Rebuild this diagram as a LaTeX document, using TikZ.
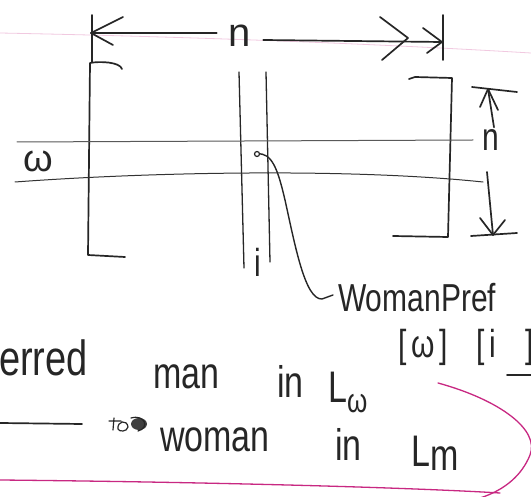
\documentclass[tikz,border=0pt]{standalone}
\usepackage{fontspec}
\setmainfont{Liberation Sans}
\definecolor{marker}{RGB}{200,40,130}
\newcommand\tallword[1]{\scalebox{1}[1.3]{#1}}
\begin{document}
\begin{tikzpicture}[x=1pt,y=-1pt,
  pen/.style={line width=1.7pt, line cap=round, line join=round, black!85},
  thinrule/.style={line width=1pt, line cap=round, black!65},
  hilite/.style={line width=1.3pt, line cap=round, marker},
  hand/.style={font=\fontsize{34}{34}\selectfont, inner sep=0pt, black!85},
  bighand/.style={font=\fontsize{40}{40}\selectfont, inner sep=0pt, black!85},
  midhand/.style={font=\fontsize{30}{30}\selectfont, inner sep=0pt, black!85}]
\useasboundingbox (0,0) rectangle (531,497);
\clip (0,0) rectangle (531,497);
\fill[white] (0,0) rectangle (531,497);

% faint ruled line of the paper
\draw[marker!25, line width=0.8pt] (0,33) .. controls (200,37) and (380,44) .. (531,53);

% width dimension: |<-- n -->>|
\node[bighand] (ntop) at (240,36) {n};
\coordinate (wl) at (91,33);
\coordinate (wr) at (442,42);
\draw[pen] (92,15) -- (92,62);
\draw[pen] (443,15) -- (443,60);
\draw[pen] ([xshift=-12pt]ntop.west |- wl) -- (wl);
\draw[pen] (123,17) -- (wl) -- (113,45);
\draw[pen] ([xshift=12pt]ntop.east |- 0,40) -- (wr);
\draw[pen] (380,17) -- (408,38) -- (382,60);
\draw[pen] (423,28) -- (wr) -- (427,53);

% matrix brackets
\draw[pen] (122,69) .. controls (120,62) and (100,61) .. (90,63) -- (88,255) -- (125,257);
\draw[pen] (409,79) -- (415,77) -- (452,78) -- (448,237) -- (393,236);

% column i
\draw[pen, line width=1.3pt] (239,72) -- (244,268);
\draw[pen, line width=1.3pt] (266,72) -- (270,262);
\node[midhand] (icol) at (258,262) {\tallword{i}};

% row w
\draw[thinrule] (17,142) -- (473,140);
\draw[thinrule, black!80] (15,182) .. controls (150,172) and (350,168) .. (483,182);
\node[font=\fontsize{38}{38}\selectfont, inner sep=0pt, black!85] (wrow) at (38,161) {ω};

% height dimension
\node[midhand] (nside) at (491,140) {\tallword{n}};
\draw[pen] (472,87) -- (517,92);
\draw[pen] (471,236) -- (517,233);
\coordinate (hu) at (488,89);
\coordinate (hd) at (493,235);
\draw[pen] (nside.north) ++(3,-2) -- (hu);
\draw[pen] (480,107) -- (hu) -- (498,110);
\draw[pen] (487,172) -- (hd);
\draw[pen] (480,218) -- (hd) -- (505,220);

% pointer to the entry
\coordinate (cell) at (257,154);
\node[midhand, anchor=west] (pref) at (338,298) {\tallword{WomanPref}};
\draw[pen, line width=1.4pt] (cell) .. controls (272,152) and (278,170) .. (285,200)
  .. controls (295,245) and (305,300) .. (322,299) -- (333,295);
\draw[pen, line width=1.2pt, fill=white] (cell) circle (2.5);
\node[midhand, anchor=base west] (idx1) at (398,358) {\tallword{[\,ω\,]}};
\node[midhand, anchor=base west] (idx2) at (476,358) {\tallword{[\,i}};
\node[midhand, anchor=base west] (idx3) at (525,358) {\tallword{]}};
\coordinate (ul) at (507,375);
\draw[pen] (ul) -- (531,375);

% notes
\node[hand, font=\fontsize{38}{38}\selectfont, anchor=base east] (t1) at (88,376) {\tallword{ferred}};
\node[hand, anchor=base west] (t2) at (153,389) {\tallword{man}};
\node[hand, anchor=base west] (t3) at (277,398) {\tallword{in}};
\node[hand, anchor=base west] (t4) at (328,403) {\tallword{L\raisebox{-7pt}{\fontsize{26}{26}\selectfont ω}}};

\coordinate (dash0) at (0,423);
\draw[pen] (dash0) -- (82,424);
% crossed-out scribble
\draw[pen, line width=1.2pt] (114,418) -- (113,430) (109,421) -- (121,421)
  (118,429) .. controls (117,421) and (127,419) .. (128,427) .. controls (127,432) and (119,432) .. (118,429);
\fill[black!75] (139,424) ellipse (8 and 6);
\draw[pen, line width=1.2pt] (131,418) .. controls (145,414) and (150,428) .. (138,431);

\node[hand, anchor=base west] (t5) at (160,452) {\tallword{woman}};
\node[hand, anchor=base west] (t6) at (335,461) {\tallword{in}};
\node[hand, anchor=base west] (t7) at (411,467) {\tallword{L\raisebox{-3pt}{m}}};

% highlighter loop
\draw[hilite] (438,383) .. controls (500,400) and (540,430) .. (530,455)
  .. controls (522,475) and (505,490) .. (480,498);
\draw[hilite] (0,480) .. controls (200,482) and (400,487) .. (500,493);
\end{tikzpicture}
\end{document}
